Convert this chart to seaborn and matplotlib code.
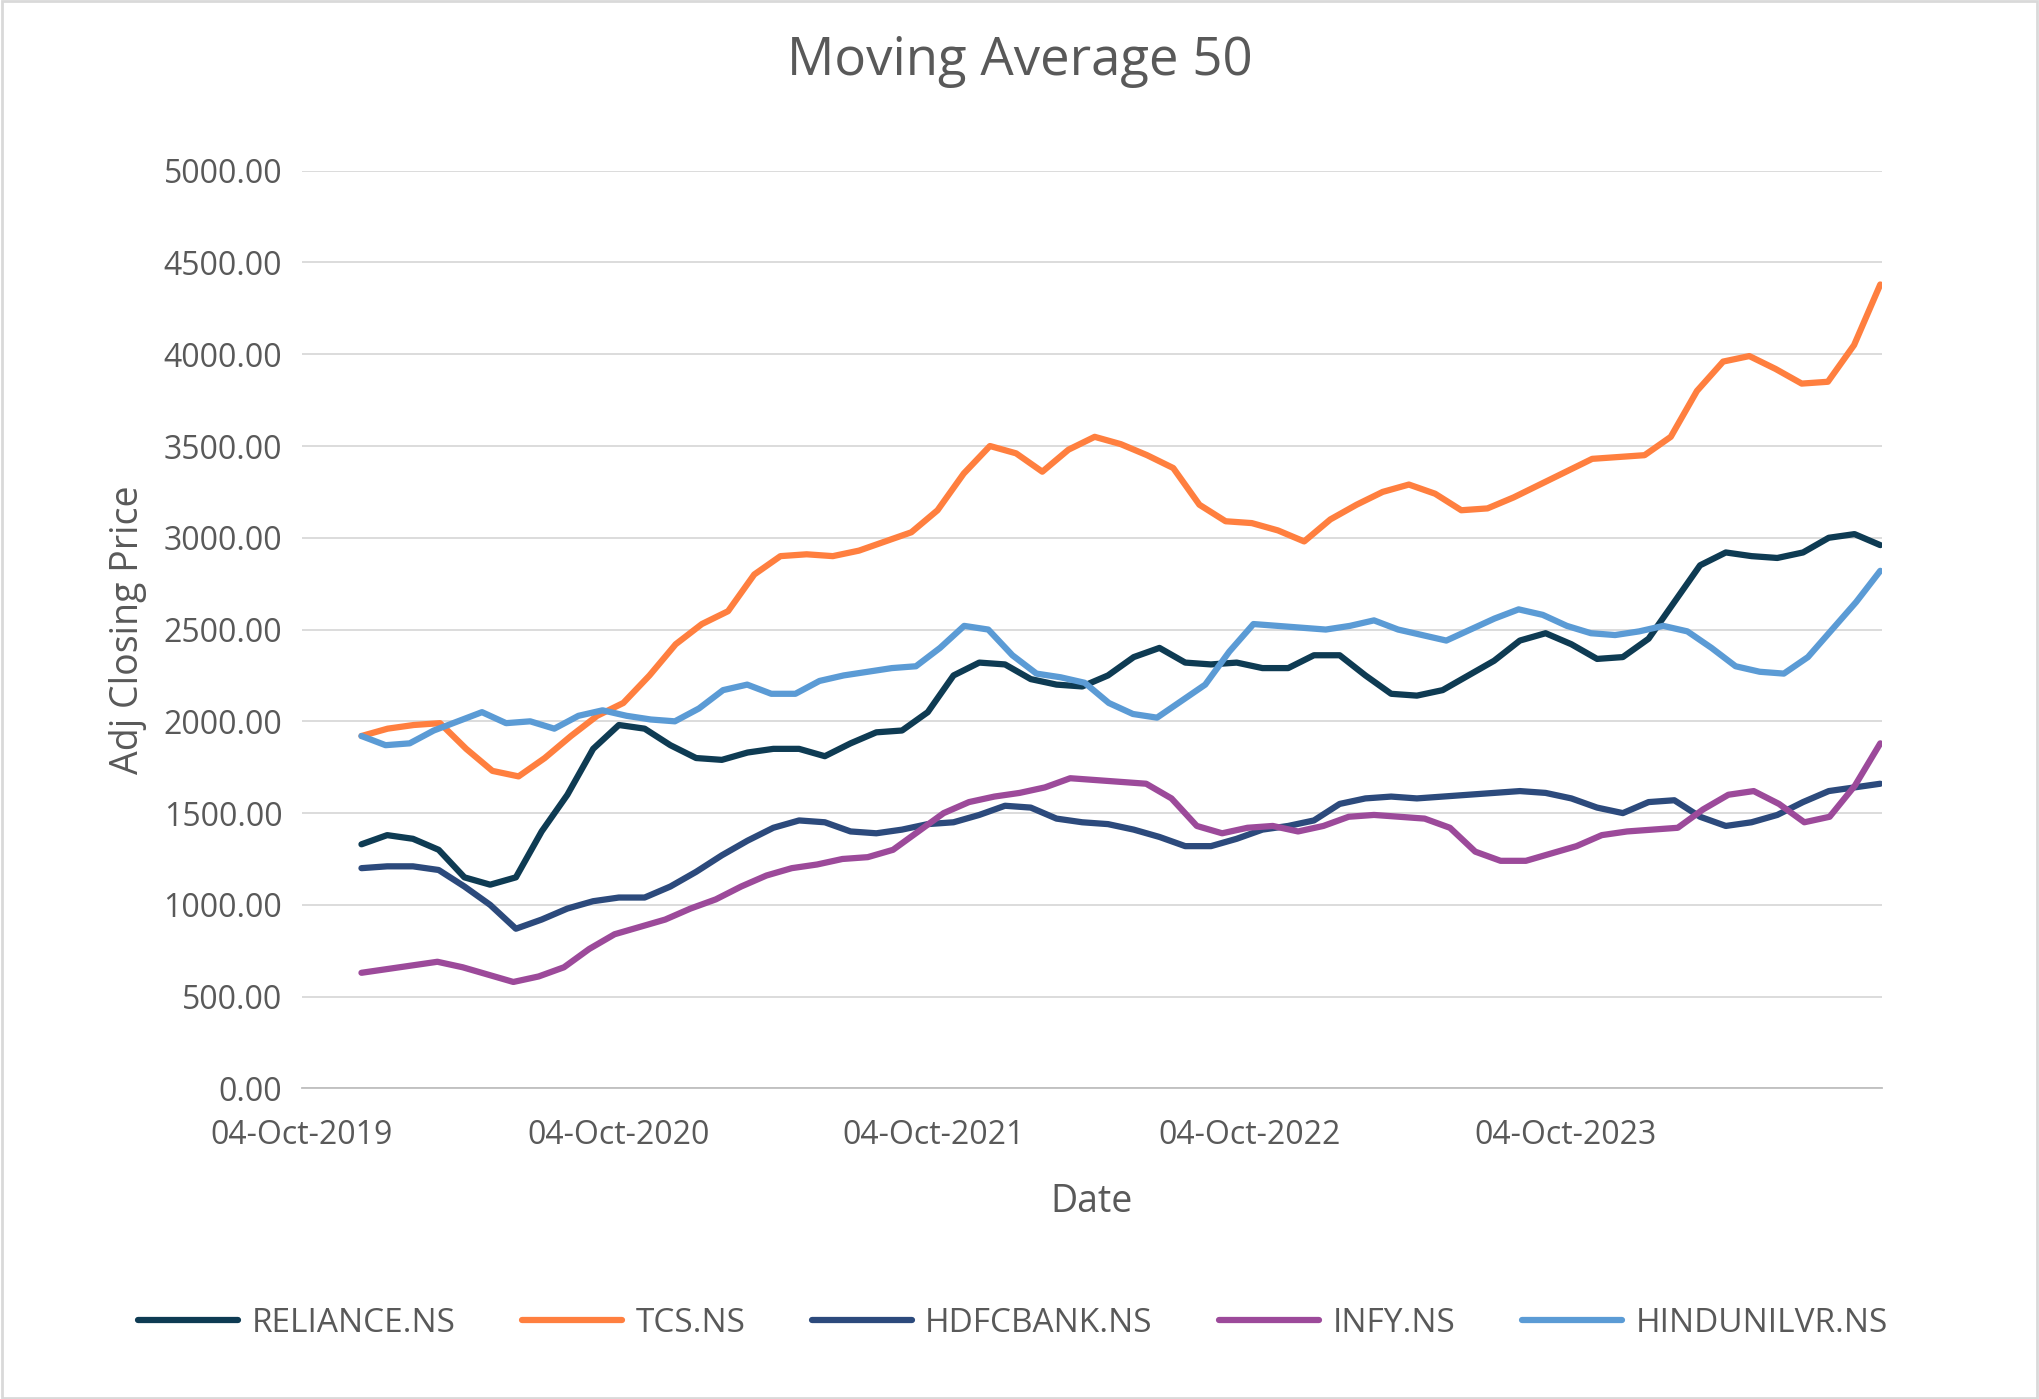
import matplotlib
matplotlib.use("Agg")
import matplotlib.pyplot as plt
import pandas as pd
import seaborn as sns

reliance = [1330,1380,1360,1300,1150,1110,1150,1400,1600,1850,1980,1960,1870,1800,1790,1830,1850,1850,1810,1880,
            1940,1950,2050,2250,2320,2310,2230,2200,2190,2250,2350,2400,2320,2310,2320,2290,2290,2360,2360,2250,
            2150,2140,2170,2250,2330,2440,2480,2420,2340,2350,2450,2650,2850,2920,2900,2890,2920,3000,3020,2960]
tcs = [1920,1960,1980,1990,1850,1730,1700,1800,1920,2030,2100,2250,2420,2530,2600,2800,2900,2910,2900,2930,
       2980,3030,3150,3350,3500,3460,3360,3480,3550,3510,3450,3380,3180,3090,3080,3040,2980,3100,3180,3250,
       3290,3240,3150,3160,3220,3290,3360,3430,3440,3450,3550,3800,3960,3990,3920,3840,3850,4050,4380]
hdfc = [1200,1210,1210,1190,1100,1000,870,920,980,1020,1040,1040,1100,1180,1270,1350,1420,1460,1450,1400,
        1390,1410,1440,1450,1490,1540,1530,1470,1450,1440,1410,1370,1320,1320,1360,1410,1430,1460,1550,1580,
        1590,1580,1590,1600,1610,1620,1610,1580,1530,1500,1560,1570,1480,1430,1450,1490,1560,1620,1640,1660]
infy = [630,650,670,690,660,620,580,610,660,760,840,880,920,980,1030,1100,1160,1200,1220,1250,
        1260,1300,1400,1500,1560,1590,1610,1640,1690,1680,1670,1660,1580,1430,1390,1420,1430,1400,1430,1480,
        1490,1480,1470,1420,1290,1240,1240,1280,1320,1380,1400,1410,1420,1520,1600,1620,1550,1450,1480,1650,1880]
hul = [1920,1870,1880,1950,2000,2050,1990,2000,1960,2030,2060,2030,2010,2000,2070,2170,2200,2150,2150,2220,
       2250,2270,2290,2300,2400,2520,2500,2360,2260,2240,2210,2100,2040,2020,2110,2200,2380,2530,2520,2510,
       2500,2520,2550,2500,2470,2440,2500,2560,2610,2580,2520,2480,2470,2490,2520,2490,2400,2300,2270,2260,
       2350,2500,2650,2820]

series = {"RELIANCE.NS": reliance, "TCS.NS": tcs, "HDFCBANK.NS": hdfc, "INFY.NS": infy, "HINDUNILVR.NS": hul}
colors = {"RELIANCE.NS": "#0E3B53", "TCS.NS": "#FF7F3F", "HDFCBANK.NS": "#2C4A7C",
          "INFY.NS": "#9C4A9A", "HINDUNILVR.NS": "#5B9BD5"}

frames = []
for name, vals in series.items():
    d = pd.date_range("2019-12-12", "2024-10-02", periods=len(vals))
    frames.append(pd.DataFrame({"Date": d, "Price": vals, "Ticker": name}))
df = pd.concat(frames)

sns.set_style("white")
plt.rcParams["font.family"] = ["Open Sans", "DejaVu Sans"]
fig, ax = plt.subplots(figsize=(20.39, 13.99), dpi=100)
fig.subplots_adjust(left=0.148, right=0.923, top=0.878, bottom=0.222)
sns.lineplot(data=df, x="Date", y="Price", hue="Ticker", palette=colors, linewidth=4.5, ax=ax)

ax.set_ylim(0, 5000)
ax.set_yticks(range(0, 5001, 500))
ax.set_yticklabels([f"{v:.2f}" for v in range(0, 5001, 500)])
ticks = pd.to_datetime(["2019-10-04", "2020-10-04", "2021-10-04", "2022-10-04", "2023-10-04"])
ax.set_xticks(ticks)
ax.set_xticklabels([t.strftime("%d-%b-%Y") for t in ticks])
ax.set_xlim(pd.Timestamp("2019-10-04"), pd.Timestamp("2024-10-04"))
ax.tick_params(axis="y", labelsize=23, colors="#595959", length=0, pad=14)
ax.tick_params(axis="x", labelsize=23, labelcolor="#595959", length=8, color="#BFBFBF",
               direction="out", pad=14)
ax.grid(axis="y", color="#D9D9D9", linewidth=1.3)
for s in ["top", "right", "left"]:
    ax.spines[s].set_visible(False)
ax.spines["bottom"].set_color("#BFBFBF")
ax.spines["bottom"].set_linewidth(1.3)
ax.set_xlabel("Date", fontsize=27, color="#595959", labelpad=22)
ax.set_ylabel("Adj Closing Price", fontsize=27, color="#595959", labelpad=12)
fig.suptitle("Moving Average 50", fontsize=38, color="#595959", x=0.5, y=0.975)

ax.legend(loc="upper center", bbox_to_anchor=(0.45, -0.205), ncol=5, frameon=False,
          fontsize=24, labelcolor="#595959", handlelength=3.0, columnspacing=2.0, handletextpad=0.4)
fig.patches.append(plt.Rectangle((0.001, 0.001), 0.998, 0.998, transform=fig.transFigure,
                                 fill=False, edgecolor="#D9D9D9", linewidth=2))
fig.savefig("out.png", dpi=100)
